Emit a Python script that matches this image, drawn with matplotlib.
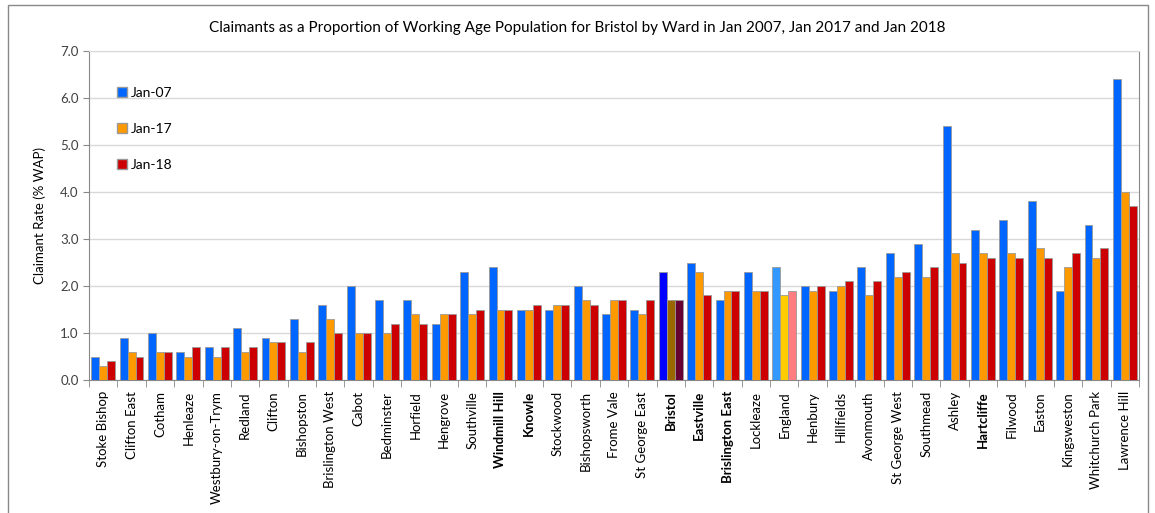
import matplotlib.pyplot as plt
import numpy as np
import matplotlib.patches as mpatches

plt.rcParams['font.family'] = ['Lato', 'DejaVu Sans']

wards = ["Stoke Bishop", "Clifton East", "Cotham", "Henleaze", "Westbury-on-Trym",
         "Redland", "Clifton", "Bishopston", "Brislington West", "Cabot", "Bedminster",
         "Horfield", "Hengrove", "Southville", "Windmill Hill", "Knowle", "Stockwood",
         "Bishopsworth", "Frome Vale", "St George East", "Bristol", "Eastville",
         "Brislington East", "Lockleaze", "England", "Henbury", "Hillfields", "Avonmouth",
         "St George West", "Southmead", "Ashley", "Hartcliffe", "Filwood", "Easton",
         "Kingsweston", "Whitchurch Park", "Lawrence Hill"]
jan07 = [0.5, 0.9, 1.0, 0.6, 0.7, 1.1, 0.9, 1.3, 1.6, 2.0, 1.7, 1.7, 1.2, 2.3, 2.4, 1.5,
         1.5, 2.0, 1.4, 1.5, 2.3, 2.5, 1.7, 2.3, 2.4, 2.0, 1.9, 2.4, 2.7, 2.9, 5.4, 3.2,
         3.4, 3.8, 1.9, 3.3, 6.4]
jan17 = [0.3, 0.6, 0.6, 0.5, 0.5, 0.6, 0.8, 0.6, 1.3, 1.0, 1.0, 1.4, 1.4, 1.4, 1.5, 1.5,
         1.6, 1.7, 1.7, 1.4, 1.7, 2.3, 1.9, 1.9, 1.8, 1.9, 2.0, 1.8, 2.2, 2.2, 2.7, 2.7,
         2.7, 2.8, 2.4, 2.6, 4.0]
jan18 = [0.4, 0.5, 0.6, 0.7, 0.7, 0.7, 0.8, 0.8, 1.0, 1.0, 1.2, 1.2, 1.4, 1.5, 1.5, 1.6,
         1.6, 1.6, 1.7, 1.7, 1.7, 1.8, 1.9, 1.9, 1.9, 2.0, 2.1, 2.1, 2.3, 2.4, 2.5, 2.6,
         2.6, 2.6, 2.7, 2.8, 3.7]
bold_wards = ["Windmill Hill", "Knowle", "Bristol", "Eastville", "Brislington East", "Hartcliffe"]

# normal colours, plus special ones for Bristol and England
c07 = ["#0066FF"] * len(wards)
c17 = ["#FF9900"] * len(wards)
c18 = ["#CC0000"] * len(wards)
bi = wards.index("Bristol")
c07[bi], c17[bi], c18[bi] = "#0000FF", "#996600", "#660033"
ei = wards.index("England")
c07[ei], c17[ei], c18[ei] = "#3399FF", "#FFCC00", "#FF7C80"

fig = plt.figure(figsize=(11.55, 5.13), dpi=100)
ax = fig.add_axes([89/1155, 1-380/513, (1139-89)/1155, (380-51)/513])

x = np.arange(len(wards))
w = 0.28
ax.bar(x - w, jan07, w, color=c07, edgecolor="#9a9a9a", linewidth=0.6, zorder=3)
ax.bar(x, jan17, w, color=c17, edgecolor="#9a9a9a", linewidth=0.6, zorder=3)
ax.bar(x + w, jan18, w, color=c18, edgecolor="#9a9a9a", linewidth=0.6, zorder=3)

ax.set_xlim(-0.5, len(wards) - 0.5)
ax.set_ylim(0, 7)
ax.set_yticks(np.arange(0, 7.01, 1.0))
ax.set_yticklabels(["%.1f" % v for v in np.arange(0, 7.01, 1.0)], fontsize=9.5, color="#404040")
ax.yaxis.grid(True, color="#d9d9d9", linewidth=1, zorder=0)
ax.tick_params(axis="y", length=4, color="#888888")

ax.set_xticks(x)
ax.set_xticklabels(wards, rotation=90, fontsize=9.5)
for lab in ax.get_xticklabels():
    if lab.get_text() in bold_wards:
        lab.set_fontweight("bold")
ax.set_xticks(np.arange(-0.5, len(wards), 1), minor=True)
ax.tick_params(axis="x", which="major", length=0, pad=8)
ax.tick_params(axis="x", which="minor", length=5, color="#888888")

for s in ["left", "right", "bottom"]:
    ax.spines[s].set_color("#888888")
ax.spines["top"].set_color("#d9d9d9")

ax.set_ylabel("Claimant Rate (% WAP)", fontsize=9.5, labelpad=10)
fig.text(0.5, 1-28/513, "Claimants as a Proportion of Working Age Population for Bristol by Ward in Jan 2007, Jan 2017 and Jan 2018",
         ha="center", va="center", fontsize=11)

handles = [mpatches.Patch(facecolor="#0066FF", edgecolor="#9a9a9a", label="Jan-07"),
           mpatches.Patch(facecolor="#FF9900", edgecolor="#9a9a9a", label="Jan-17"),
           mpatches.Patch(facecolor="#CC0000", edgecolor="#9a9a9a", label="Jan-18")]
ax.legend(handles=handles, loc="upper left", bbox_to_anchor=(0.015, 0.93), frameon=False,
          fontsize=10, labelspacing=1.75, handlelength=0.7, handleheight=0.7, handletextpad=0.3)

# outer frame
fig.patches.append(mpatches.Rectangle((8/1155, -0.01), 1140/1155, 1-5/513 + 0.01, transform=fig.transFigure,
                                      fill=False, edgecolor="#888888", linewidth=1))

fig.savefig("out.png", dpi=100)
